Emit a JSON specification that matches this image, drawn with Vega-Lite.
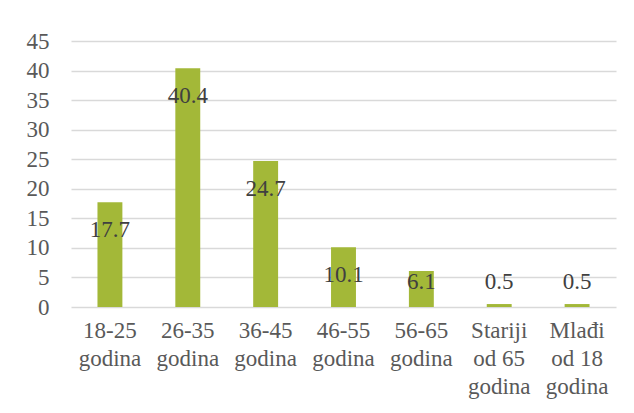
{
  "$schema": "https://vega.github.io/schema/vega-lite/v6.json",
  "width": 545,
  "height": 266,
  "autosize": {"type": "none"},
  "padding": {"left": 71, "top": 41, "right": 18, "bottom": 106},
  "background": "white",
  "config": {
    "view": {"stroke": null},
    "font": "Liberation Serif",
    "axis": {
      "labelFont": "Liberation Serif",
      "labelFontSize": 23,
      "labelColor": "#595959",
      "labelOverlap": false,
      "ticks": false,
      "domain": false,
      "labelLimit": 0
    },
    "axisX": {
      "labelAngle": 0,
      "labelLineHeight": 28,
      "labelPadding": 12,
      "grid": false
    },
    "text": {"font": "Liberation Serif"}
  },
  "data": {
    "values": [
      {"group": "18-25 godina", "value": 17.7},
      {"group": "26-35 godina", "value": 40.4},
      {"group": "36-45 godina", "value": 24.7},
      {"group": "46-55 godina", "value": 10.1},
      {"group": "56-65 godina", "value": 6.1},
      {"group": "Stariji od 65 godina", "value": 0.5},
      {"group": "Mlađi od 18 godina", "value": 0.5}
    ]
  },
  "transform": [
    {"calculate": "max(datum.value - 4.75, 4.2)", "as": "labelY"}
  ],
  "encoding": {
    "x": {
      "field": "group",
      "type": "nominal",
      "sort": null,
      "title": null,
      "scale": {"paddingInner": 0.68, "paddingOuter": 0.34},
      "axis": {
        "labelExpr": "split(datum.label, ' ').length > 2 ? [split(datum.label, ' ')[0], split(datum.label, ' ')[1] + ' ' + split(datum.label, ' ')[2], split(datum.label, ' ')[3] ? split(datum.label, ' ')[3] : ''] : split(datum.label, ' ')"
      }
    }
  },
  "resolve": {"axis": {"y": "independent"}},
  "layer": [
    {
      "mark": {"type": "bar", "color": "#a3b838"},
      "encoding": {
        "y": {
          "field": "value",
          "type": "quantitative",
          "title": null,
          "scale": {"domain": [0, 45], "nice": false},
          "axis": {
            "values": [0, 5, 10, 15, 20, 25, 30, 35, 40, 45],
            "labelOverlap": false,
            "labelPadding": 22,
            "grid": true,
            "gridColor": "#d9d9d9",
            "gridWidth": 1.5
          }
        }
      }
    },
    {
      "mark": {"type": "text", "fontSize": 23, "color": "#404040", "baseline": "middle"},
      "encoding": {
        "y": {"field": "labelY", "type": "quantitative", "axis": null},
        "text": {"field": "value", "type": "quantitative", "format": ".1f"}
      }
    }
  ]
}
